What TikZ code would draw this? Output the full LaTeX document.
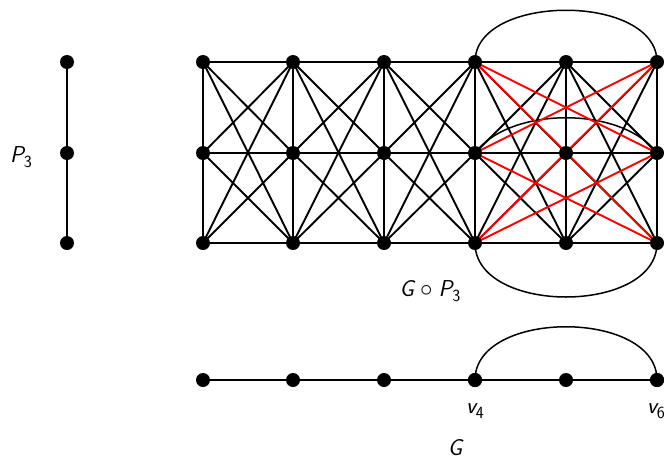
\documentclass[tikz,border=0pt]{standalone}
\usepackage{fontspec}
\newcommand{\lblsub}[2]{{\sffamily\itshape #1}\raisebox{-0.45ex}{\fontsize{17}{17}\selectfont\sffamily #2}}
\tikzset{
  vtx/.style={circle,fill=black,inner sep=0pt,minimum size=14pt},
  edg/.style={line width=1.9pt,black},
  redg/.style={line width=1.9pt,red},
  arcedg/.style={line width=1.5pt,black},
  lbl/.style={inner sep=0pt,font=\fontsize{23}{27}\selectfont}
}
\begin{document}
\begin{tikzpicture}[x=1pt,y=-1pt]
\useasboundingbox (0,0) rectangle (669,461);
% P3
\node[vtx] (p1) at (67,62) {};
\node[vtx] (p2) at (67,153) {};
\node[vtx] (p3) at (67,243) {};
\draw[edg] (p1) -- (p2) -- (p3);
\node[lbl] (lp) at (21,157) {\lblsub{P}{3}};
% grid
\foreach \c/\x in {1/203,2/293,3/384,4/475,5/566,6/657}{
  \foreach \r/\y in {1/62,2/153,3/243}{
    \coordinate (g\c\r) at (\x,\y);
  }
}
% vertical edges within columns
\foreach \c in {1,...,6}{
  \draw[edg] (g\c1) -- (g\c2) -- (g\c3);
}
% full bipartite between consecutive columns
\foreach \c/\d in {1/2,2/3,3/4,4/5,5/6}{
  \foreach \r in {1,2,3}{
    \foreach \s in {1,2,3}{
      \draw[edg] (g\c\r) -- (g\d\s);
    }
  }
}
% arcs between column 4 and 6
\draw[arcedg] (g41) .. controls (475,-7) and (657,-7) .. (g61);
\draw[arcedg] (g42) .. controls (510,106) and (622,106) .. (g62);
\draw[arcedg] (g43) .. controls (475,315) and (657,315) .. (g63);
% red diagonals
\foreach \r/\s in {1/2,1/3,2/1,2/3,3/1,3/2}{
  \draw[redg] (g4\r) -- (g6\s);
}
% vertices
\foreach \c in {1,...,6}{
  \foreach \r in {1,2,3}{
    \node[vtx] (n\c\r) at (g\c\r) {};
  }
}
\node[lbl] (lprod) at (430,291) {{\sffamily\itshape G}\hspace{6pt}$\circ$\hspace{6pt}\lblsub{P}{3}};
% G
\node[vtx] (v1) at (203,380) {};
\node[vtx] (v2) at (293,380) {};
\node[vtx] (v3) at (384,380) {};
\node[vtx] (v4) at (475,380) {};
\node[vtx] (v5) at (566,380) {};
\node[vtx] (v6) at (657,380) {};
\draw[edg] (v1) -- (v2) -- (v3) -- (v4) -- (v5) -- (v6);
\draw[arcedg] (v4.center) .. controls (475,309) and (657,309) .. (v6.center);
\node[vtx] at (v4) {};
\node[vtx] at (v6) {};
\node[lbl] (l4) at (475,411) {\lblsub{v}{4}};
\node[lbl] (l6) at (656,411) {\lblsub{v}{6}};
\node[lbl] (lg) at (455,448) {\sffamily\itshape G};
\end{tikzpicture}
\end{document}
